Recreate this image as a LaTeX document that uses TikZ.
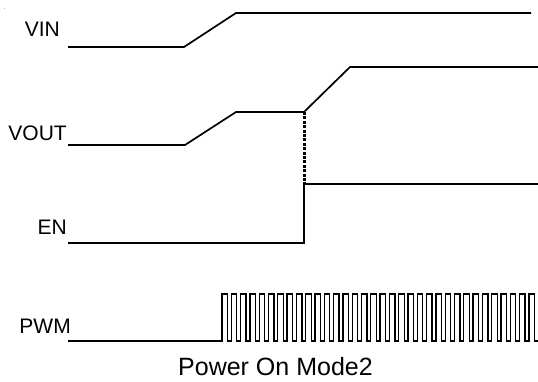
\documentclass[tikz,border=0pt]{standalone}
\usepackage{fontspec}
\setmainfont{Liberation Sans}
\begin{document}
\begin{tikzpicture}[x=1pt,y=-1pt,
  wave/.style={line width=1.7pt, line join=miter},
  pwmline/.style={line width=1.3pt, line join=miter},
  dotline/.style={line width=3pt, dash pattern=on 3pt off 1.4pt},
  lbl/.style={font=\fontsize{21}{21}\selectfont, inner sep=0pt, anchor=base east},
  ttl/.style={font=\fontsize{25}{25}\selectfont, inner sep=0pt, anchor=base west}]
\useasboundingbox (0,0) rectangle (538,381);
\fill[gray!60] (3.5,7.5) rectangle (5,9);
% labels
\node[lbl] (vin) at (60,36.7) {VIN};
\node[lbl] (vout) at (67,140) {VOUT};
\node[lbl] (en) at (67,234) {EN};
\node[lbl] (pwm) at (71,333) {PWM};
\node[ttl] (title) at (178,375) {Power On Mode2};
% coordinates
\coordinate (vinA) at (68,47);
\coordinate (vinB) at (184,47);
\coordinate (vinC) at (236,13);
\coordinate (vinD) at (531,13);
\coordinate (voA) at (68,145);
\coordinate (voB) at (185,145);
\coordinate (voC) at (236,112);
\coordinate (voD) at (304,112);
\coordinate (voE) at (350,67);
\coordinate (voF) at (538,67);
\coordinate (enA) at (68,243);
\coordinate (enB) at (304,243);
\coordinate (enC) at (304,184);
\coordinate (enD) at (538,184);
\coordinate (pwA) at (68,341);
\coordinate (pwB) at (222,341);
% waveforms
\draw[wave] (vinA) -- (vinB) -- (vinC) -- (vinD);
\draw[wave] (voA) -- (voB) -- (voC) -- (voD) -- (voE) -- (voF);
\draw[dotline] (voD) -- (enC);
\draw[wave] (enA) -- (enB) -- (enC) -- (enD);
\draw[pwmline] (pwA) -- (pwB)
  \foreach \i in {0,...,33}{ -- ++(0,-47) -- ++(5.5,0) -- ++(0,47) -- ++(3.8,0) };
\end{tikzpicture}
\end{document}
